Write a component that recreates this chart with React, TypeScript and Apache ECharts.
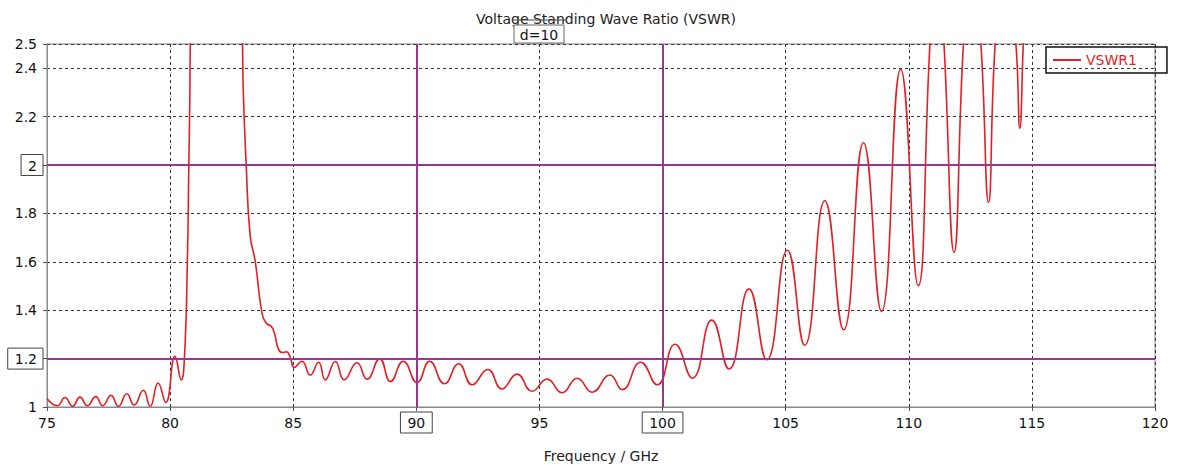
import React, { useEffect, useRef } from "react";
import * as echarts from "echarts";

// Frequency (GHz) and VSWR values
const freq: number[] = [
  75.0, 75.42, 75.73, 76.04, 76.34, 76.64, 76.98, 77.26, 77.6, 77.9,
  78.24, 78.54, 78.91, 79.19, 79.51, 79.82, 80.2, 80.45, 80.58, 80.7,
  80.76, 80.8, 80.82, 80.95, 82.8, 82.94, 82.97, 83.09, 83.25, 83.46,
  83.73, 83.92, 84.12, 84.25, 84.4, 84.56, 84.72, 84.88, 85.04,
  85.35, 85.69, 86.03, 86.3, 86.71, 87.07, 87.59, 88.0, 88.51, 88.95,
  89.47, 90.03, 90.54, 91.14, 91.72, 92.27, 92.9, 93.48, 94.09, 94.7,
  95.31, 95.92, 96.53, 97.14, 97.86, 98.36, 99.11, 99.78,
  100.51, 101.21, 102.0, 102.7, 103.51, 104.23, 105.07, 105.77, 106.59, 107.35,
  108.16, 108.89, 109.67, 110.38, 110.86, 111.15, 111.43, 111.84, 112.22, 112.57,
  112.93, 113.24, 113.51, 113.93, 114.35, 114.51, 114.65, 114.7,
];
const vswr: number[] = [
  1.035, 1.005, 1.039, 1.003, 1.041, 1.005, 1.043, 1.005, 1.048, 1.003,
  1.055, 1.008, 1.069, 1.003, 1.099, 1.019, 1.209, 1.112, 1.2, 1.6,
  2.0, 2.27, 2.5, 3.2, 3.2, 2.5, 2.31, 2.0, 1.71, 1.6,
  1.39, 1.345, 1.332, 1.3, 1.239, 1.225, 1.228, 1.205, 1.163,
  1.189, 1.132, 1.185, 1.112, 1.188, 1.112, 1.183, 1.115, 1.199, 1.105,
  1.189, 1.101, 1.189, 1.096, 1.179, 1.092, 1.155, 1.075, 1.136, 1.065,
  1.115, 1.059, 1.119, 1.061, 1.132, 1.072, 1.185, 1.092,
  1.259, 1.119, 1.359, 1.157, 1.488, 1.195, 1.648, 1.255, 1.852, 1.319,
  2.092, 1.395, 2.396, 1.501, 2.5, 2.9, 2.5, 1.639, 2.5, 2.9,
  2.5, 1.845, 2.5, 2.9, 2.5, 2.152, 2.5, 2.6,
];

const markerFreqs: number[] = [90, 100];
const markerVswr: number[] = [1.2, 2];
const boxedY = ["1.2", "2"];
const boxedX = ["90", "100"];

const FONT = "DejaVu Sans";
const FS = 14;
const PURPLE = "#9a3590";
const RED = "#e31e24";

export default function App() {
  const ref = useRef<HTMLDivElement>(null);
  useEffect(() => {
    document.body.style.margin = "0";
    if (!ref.current) return;
    const chart = echarts.init(ref.current, undefined, { renderer: "svg" });
    const data = freq.map((f, i) => [f, vswr[i]]);
    chart.setOption({
      animation: false,
      backgroundColor: "#ffffff",
      textStyle: { fontFamily: FONT },
      title: {
        text: "Voltage Standing Wave Ratio (VSWR)",
        left: 601,
        textAlign: "center",
        top: 6,
        textStyle: { fontFamily: FONT, fontSize: FS, fontWeight: "normal", color: "#222", lineHeight: 16 },
      },
      legend: {
        left: 1046,
        top: 47,
        orient: "vertical",
        borderColor: "#111",
        borderWidth: 1.5,
        padding: [6, 30, 6, 7],
        itemWidth: 28,
        itemHeight: 2,
        itemGap: 6,
        textStyle: { fontFamily: FONT, fontSize: FS, color: RED },
        data: [{ name: "VSWR1", icon: "rect" }],
      },
      grid: {
        left: 47,
        right: 24,
        top: 44,
        height: 374,
        show: true,
        borderColor: "#8a8a8a",
        borderWidth: 1,
        containLabel: false,
      },
      xAxis: {
        type: "value",
        min: 75,
        max: 120,
        interval: 5,
        name: "Frequency / GHz",
        nameLocation: "middle",
        nameGap: 42,
        nameTextStyle: { fontFamily: FONT, fontSize: FS, color: "#222" },
        axisLine: { lineStyle: { color: "#8a8a8a" } },
        axisTick: { show: true, length: 4, lineStyle: { color: "#555" } },
        axisLabel: {
          margin: 5,
          color: "#111",
          fontFamily: FONT,
          fontSize: FS,
          formatter: (v: number) => {
            const s = String(Math.round(v));
            return boxedX.includes(s) ? `{box|${s}}` : `{n|${s}}`;
          },
          rich: {
            n: { fontFamily: FONT, fontSize: FS, color: "#111", padding: [4, 7, 4, 7] },
            box: {
              fontFamily: FONT,
              fontSize: FS,
              color: "#111",
              padding: [4, 7, 3, 7],
              borderColor: "#444",
              borderWidth: 1,
            },
          },
        },
        splitLine: { show: true, lineStyle: { color: "#333", type: [3, 3], width: 1 } },
      },
      yAxis: {
        type: "value",
        min: 1,
        max: 2.5,
        interval: 0.2,
        axisLine: { show: true, lineStyle: { color: "#8a8a8a" } },
        axisTick: { show: true, length: 4, lineStyle: { color: "#555" } },
        axisLabel: {
          margin: 4,
          color: "#111",
          fontFamily: FONT,
          fontSize: FS,
          showMaxLabel: true,
          formatter: (v: number) => {
            const s = String(Math.round(v * 10) / 10);
            return boxedY.includes(s) ? `{box|${s}}` : `{n|${s}}`;
          },
          rich: {
            n: { fontFamily: FONT, fontSize: FS, color: "#111", padding: [3, 6, 3, 0] },
            box: {
              fontFamily: FONT,
              fontSize: FS,
              color: "#111",
              padding: [4, 6, 3, 7],
              borderColor: "#444",
              borderWidth: 1,
            },
          },
        },
        splitLine: { show: true, lineStyle: { color: "#333", type: [3, 3], width: 1 } },
      },
      graphic: [
        {
          type: "line",
          shape: { x1: 513, y1: 20, x2: 566, y2: 20 },
          style: { stroke: "#444", lineWidth: 1 },
          z: 10,
        },
        {
          type: "rect",
          shape: { x: 514, y: 25, width: 50, height: 18 },
          style: { fill: "#fff", stroke: "#666", lineWidth: 1 },
          z: 10,
        },
        {
          type: "text",
          x: 539,
          y: 35,
          style: {
            text: "d=10",
            fontFamily: FONT,
            fontSize: FS,
            lineHeight: 15,
            fill: "#111",
            align: "center",
            verticalAlign: "middle",
          },
          z: 11,
        },
      ],
      series: [
        {
          name: "VSWR1",
          type: "line",
          data,
          smooth: 0.5,
          symbol: "none",
          clip: true,
          lineStyle: { color: RED, width: 1.6 },
          itemStyle: { color: RED },
          z: 3,
          markLine: {
            silent: true,
            symbol: "none",
            label: { show: false },
            lineStyle: { color: PURPLE, type: "solid", width: 2 },
            data: [
              ...markerFreqs.map((f) => ({ xAxis: f })),
              ...markerVswr.map((v) => ({ yAxis: v })),
            ],
          },
        },
      ],
    });
    return () => chart.dispose();
  }, []);
  return <div ref={ref} style={{ width: 1179, height: 468 }} />;
}
